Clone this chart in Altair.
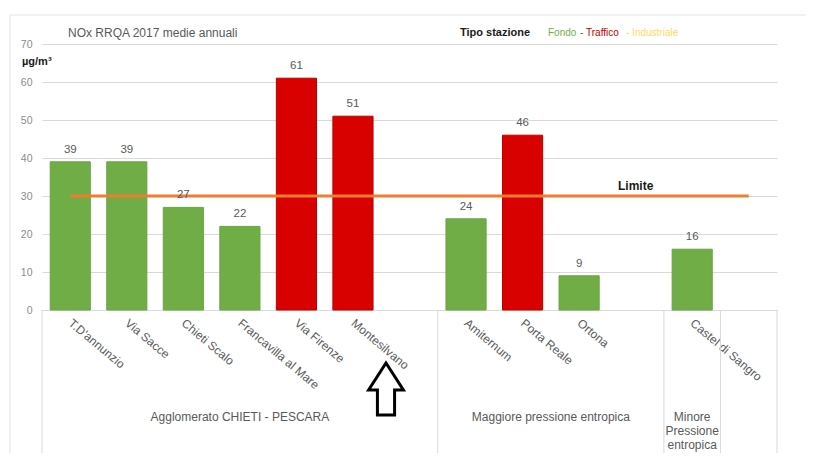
import altair as alt
import pandas as pd

stations = ["T.D'annunzio", "Via Sacce", "Chieti Scalo", "Francavilla al Mare",
            "Via Firenze", "Montesilvano", " ", "Amiternum", "Porta Reale",
            "Ortona", "  ", "Castel di Sangro", "   "]
values = [39, 39, 27, 22, 61, 51, None, 24, 46, 9, None, 16, None]
types = ["Fondo", "Fondo", "Fondo", "Fondo", "Traffico", "Traffico", None,
         "Fondo", "Traffico", "Fondo", None, "Fondo", None]
limit = [30] * 13

group_names = ["Agglomerato CHIETI - PESCARA", "Maggiore pressione entropica",
               "Minore\nPressione\nentropica"]
group_start = [0, 7, 11]
group_end = [7, 11, 12]
dividers = [0, 7, 11, 12, 13]
y_ticks = [0, 10, 20, 30, 40, 50, 60, 70]

GREEN = "#70AD47"
RED = "#D90000"
GRAY = "#595959"
FONT = "Liberation Sans"
W, H = 735, 266

df = pd.DataFrame({"station": stations, "value": values, "tipo": types, "limit": limit})
bars_df = df.dropna(subset=["value"])

xscale = alt.Scale(paddingInner=0.29, paddingOuter=0.145)
xaxis = alt.Axis(title=None, labelAngle=40, labelAlign="left", labelBaseline="middle",
                 labelPadding=11, labelFont=FONT, labelFontSize=12, labelColor=GRAY,
                 ticks=False, domainColor="#D9D9D9", labelOverlap=False, labelLimit=200)
yscale = alt.Scale(domain=[0, 70], nice=False)
yaxis = alt.Axis(title=None, values=y_ticks, labelFont=FONT, labelFontSize=10.5, labelOverlap=False,
                 labelColor="#8C8C8C", gridColor="#D9D9D9", domain=False, ticks=False, labelPadding=10)


def X():
    return alt.X("station:N", sort=stations, scale=xscale, axis=xaxis)


bars = alt.Chart(bars_df).mark_bar(strokeWidth=1).encode(
    x=X(),
    y=alt.Y("value:Q", scale=yscale, axis=yaxis),
    color=alt.Color("tipo:N", scale=alt.Scale(domain=["Fondo", "Traffico"], range=[GREEN, RED]), legend=None),
    stroke=alt.Stroke("tipo:N", scale=alt.Scale(domain=["Fondo", "Traffico"], range=["#6AA443", "#B80000"]), legend=None),
)

labels = alt.Chart(bars_df).mark_text(dy=-12, font=FONT, fontSize=11.5, color=GRAY).encode(
    x=X(), y=alt.Y("value:Q", scale=yscale, axis=yaxis),
    text=alt.Text("value:Q", format="d"))

line = alt.Chart(df).mark_line(color="#ED7D31", strokeWidth=3).encode(
    x=X(), y=alt.Y("limit:Q", scale=yscale, axis=yaxis))

lim_text = alt.Chart(df[df["station"] == "  "]).mark_text(
    dy=-10, font=FONT, fontSize=12, fontWeight="bold", color="#1a1a1a").encode(
    x=X(), y=alt.Y("limit:Q", scale=yscale, axis=yaxis), text=alt.value("Limite"))

main = alt.layer(bars, line, labels, lim_text)

qx = alt.Scale(domain=[0, 13], nice=False, zero=False)
div_df = pd.DataFrame({"pos": dividers})
divs = alt.Chart(div_df).mark_rule(color="#D9D9D9", strokeWidth=1).encode(
    x=alt.X("pos:Q", scale=qx, axis=None), y=alt.value(H), y2=alt.value(H + 160))

grp_df = pd.DataFrame({"name": group_names, "s": group_start, "e": group_end})
grp = alt.Chart(grp_df).transform_calculate(mid="(datum.s + datum.e) / 2").mark_text(
    font=FONT, fontSize=12, color=GRAY, lineBreak="\n", lineHeight=14, baseline="middle").encode(
    x=alt.X("mid:Q", scale=qx, axis=None), y=alt.value(H + 107), text="name:N")

ann = pd.DataFrame({"k": [0]})
title = alt.Chart(ann).mark_text(align="left", font=FONT, fontSize=12, color=GRAY).encode(
    x=alt.value(26), y=alt.value(-11), text=alt.value("NOx  RRQA  2017 medie annuali"))
unit = alt.Chart(ann).mark_text(align="left", font=FONT, fontSize=11, fontWeight="bold", color="#1a1a1a").encode(
    x=alt.value(-20), y=alt.value(18), text=alt.value("µg/m³"))

leg_texts = ["Tipo stazione", "Fondo", "-", "Traffico", "- Industriale"]
leg_x = [418, 506, 538, 544, 584]
leg_col = ["#1a1a1a", GREEN, GRAY, "#C00000", "#FFD966"]
leg_w = ["bold", "normal", "normal", "normal", "normal"]
leg_s = [11, 10, 10, 10, 10]
legend = alt.layer(*[
    alt.Chart(ann).mark_text(align="left", font=FONT, fontSize=s, color=c, fontWeight=w).encode(
        x=alt.value(xv), y=alt.value(-11), text=alt.value(t))
    for t, xv, c, w, s in zip(leg_texts, leg_x, leg_col, leg_w, leg_s)
])

arrow_shape = "M0,-1 L0.67,0.04 L0.33,0.04 L0.33,1 L-0.33,1 L-0.33,0.04 L-0.67,0.04 Z"
arrow = alt.Chart(ann).mark_point(shape=arrow_shape, filled=False, stroke="black", strokeWidth=3,
                                  size=2704, opacity=1).encode(
    x=alt.value(344), y=alt.value(345))

border_v = alt.Chart(ann).mark_rule(color="#E3E3E3").encode(
    x=alt.value(-32), y=alt.value(-29), y2=alt.value(H + 160))
border_h = alt.Chart(ann).mark_rule(color="#E3E3E3").encode(
    x=alt.value(-32), x2=alt.value(W + 40), y=alt.value(-29))

extra = alt.layer(divs, grp, title, unit, legend, arrow, border_v, border_h)

chart = alt.layer(main, extra).resolve_scale(x="independent").properties(
    width=W, height=H,
    autosize=alt.AutoSizeParams(type="none"),
    padding={"left": 34, "top": 36, "right": 29, "bottom": 143},
).configure_view(stroke=None)

chart.save("out.html", embed_options={"renderer": "svg", "actions": False})
